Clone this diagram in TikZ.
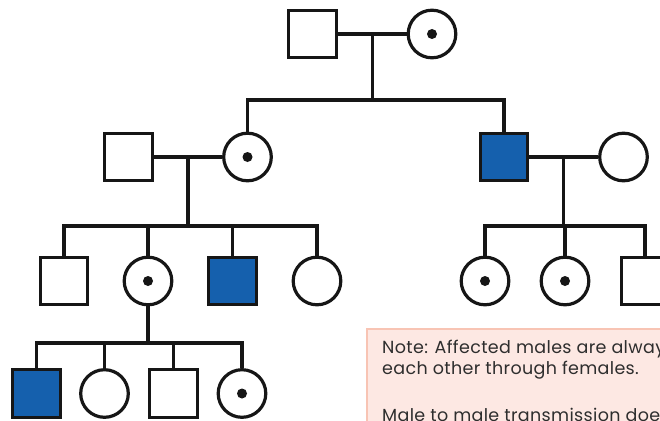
\documentclass[tikz,border=0pt]{standalone}
\usepackage{fontspec}
\setmainfont[LetterSpace=2]{Poppins}
\definecolor{ink}{HTML}{161616}
\definecolor{affblue}{HTML}{1560AD}
\definecolor{notefill}{HTML}{FDE8E3}
\definecolor{noteline}{HTML}{F8C4B4}
\definecolor{notetext}{HTML}{2E2E2E}
\begin{document}
\begin{tikzpicture}[x=1pt,y=-1pt,line join=miter,
	male/.style={draw=ink,line width=3.2pt,minimum size=47.6pt,inner sep=0pt,fill=white},
	female/.style={male,circle},
	affected/.style={fill=affblue},
	tie/.style={draw=ink,line width=3.2pt},
	notetxt/.style={anchor=base west,inner sep=0pt,text=notetext,font=\fontsize{17.5}{20}\selectfont}]
	\useasboundingbox (0,0) rectangle (660,420);
	\clip (0,0) rectangle (660,420);
	% generation I
	\node[male] (f1) at (312.5,34) {};
	\node[female] (m1) at (432,34) {};
	% generation II
	\node[male] (h2) at (128.5,157) {};
	\node[female] (a2) at (247.5,157) {};
	\node[male,affected] (b2) at (504,157) {};
	\node[female] (w2) at (623.5,157) {};
	% generation III
	\node[male] (s31) at (64,281) {};
	\node[female] (c31) at (148,281) {};
	\node[male,affected] (s32) at (232.5,281) {};
	\node[female] (c32) at (317,281) {};
	\node[female] (c33) at (485,281) {};
	\node[female] (c34) at (565,281) {};
	\node[male] (s33) at (645,281) {};
	% generation IV
	\node[male,affected] (s41) at (36.5,393.5) {};
	\node[female] (c41) at (104.5,393.5) {};
	\node[male] (s42) at (173.5,393.5) {};
	\node[female] (c42) at (242,393.5) {};
	% carriers
	\foreach \n in {m1,a2,c31,c33,c34,c42}
	\fill[ink] (\n) circle (5pt);
	% sibship bars
	\coordinate (bar1) at (370,100);
	\coordinate (bar2) at (188,226);
	\coordinate (bar3) at (565,226);
	\coordinate (bar4) at (148,343);
	% marriages and descent
	\draw[tie] (f1) -- coordinate (u1) (m1);
	\draw[tie] (h2) -- coordinate (u2) (a2);
	\draw[tie] (b2) -- coordinate (u3) (w2);
	\draw[tie] (u1) -- (u1 |- bar1);
	\draw[tie] (u2) -- (u2 |- bar2);
	\draw[tie] (u3) -- (u3 |- bar3);
	\draw[tie] (c31.south) -- (bar4);
	\draw[tie] (a2.north) |- (bar1) -| (b2.north);
	\draw[tie] (s31.north) |- (bar2) -| (c32.north);
	\draw[tie] (c33.north) |- (bar3) -| (s33.north);
	\draw[tie] (s41.north) |- (bar4) -| (c42.north);
	\foreach \n/\b in {c31/bar2,s32/bar2,c34/bar3,c41/bar4,s42/bar4}
	\draw[tie] (\n.north) -- (\n.north |- \b);
	% note
	\draw[draw=noteline,fill=notefill,line width=1.2pt] (367,329) rectangle (720,460);
	\node[notetxt] (note1) at (382,353) {Note: Affected males are always related to};
	\node[notetxt] (note2) at (382,374) {each other through females.};
	\node[notetxt] (note3) at (382,421) {Male to male transmission does not occur.};
\end{tikzpicture}
\end{document}
